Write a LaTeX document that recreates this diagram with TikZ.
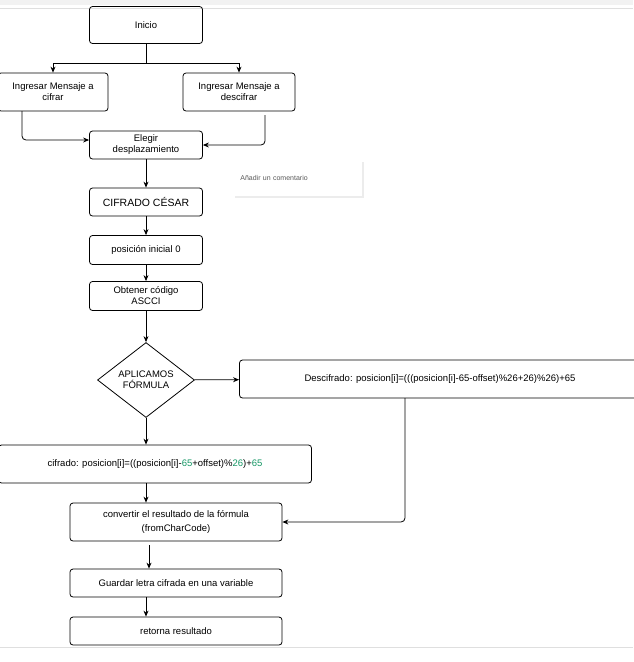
\documentclass[tikz,border=0pt]{standalone}
\usepackage{fontspec}
\setmainfont{Liberation Sans}
\usetikzlibrary{shapes.geometric,arrows.meta}
\definecolor{numgreen}{RGB}{20,150,100}
\begin{document}
\begin{tikzpicture}[x=1pt,y=-1pt,font=\fontsize{9.5}{11}\selectfont,line width=0.8pt,
  box/.style={draw,rounded corners=3pt,align=center,inner sep=1pt},
  flow/.style={-{Stealth[length=6pt,width=5pt]}}]
\useasboundingbox (0,0) rectangle (633,662);
\fill[gray!10] (0,0) rectangle (633,5);
\draw[gray!25,thin] (0,8) -- (633,8);
\draw[gray!25,thin] (0,647) -- (633,647);

\node[box,minimum width=113,minimum height=37] (inicio) at (146,25) {Inicio};
\node[box,minimum width=110,minimum height=38] (cif) at (53,92) {Ingresar Mensaje a\\cifrar};
\node[box,minimum width=112,minimum height=38] (des) at (239,92) {Ingresar Mensaje a\\descifrar};
\node[box,minimum width=113,minimum height=28] (elegir) at (146,145) {Elegir\\desplazamiento};
\node[box,minimum width=113,minimum height=28] (cesar) at (146,202) {\fontsize{10.5}{12}\selectfont CIFRADO CÉSAR};
\node[box,minimum width=113,minimum height=29] (pos) at (146,250) {posición inicial 0};
\node[box,minimum width=113,minimum height=29] (ascii) at (146,296) {Obtener código\\ASCCI};
\node[draw,diamond,aspect=1.3,minimum width=97,minimum height=75,inner sep=0pt,align=center] (form) at (146,380) {APLICAMOS\\FÓRMULA};
\node[box,minimum width=401,minimum height=38] (descif) at (440,379) {Descifrado: posicion[i]=(((posicion[i]-65-offset)\%26+26)\%26)+65};
\node[box,minimum width=313,minimum height=38] (cifra) at (155,464) {cifrado: posicion[i]=((posicion[i]-\textcolor{numgreen}{65}+offset)\%\textcolor{numgreen}{26})+\textcolor{numgreen}{65}};
\node[box,minimum width=212,minimum height=38] (conv) at (176,522) {convertir el resultado de la fórmula\\[3pt](fromCharCode)};
\node[box,minimum width=212,minimum height=28] (guardar) at (176,583) {Guardar letra cifrada en una variable};
\node[box,minimum width=212,minimum height=28] (ret) at (176,631) {retorna resultado};
% comentario
\fill[gray!15] (235,162) rectangle (364,198);
\node[fill=white,minimum width=129,minimum height=36,text=gray!70!black,font=\fontsize{7}{8}\selectfont,anchor=north west,text width=115] (coment) at (233,160) {Añadir un comentario};

\draw (inicio.south) -- (146,63) coordinate (split);
\draw[flow] (split) -| (cif.north);
\draw[flow] (split) -| (des.north);
\draw[flow,rounded corners=4pt] (22,111) |- (elegir.west |- 0,140);
\draw[flow,rounded corners=4pt] (265,115) |- (elegir.east);
\draw[flow] (elegir) -- (cesar);
\draw[flow] (cesar) -- (pos);
\draw[flow] (pos) -- (ascii);
\draw[flow] (ascii) -- (form);
\draw[flow] (form) -- (descif);
\draw[flow] (form) -- (cifra.north -| form);
\draw[flow] (cifra.south -| form) -- (conv.north -| form);
\draw[flow,rounded corners=4pt] (405,398) |- (conv.east);
\draw[flow] (149,545) -- (guardar.north -| 149,0);
\draw[flow] (guardar.south -| form) -- (ret.north -| form);
\end{tikzpicture}
\end{document}
